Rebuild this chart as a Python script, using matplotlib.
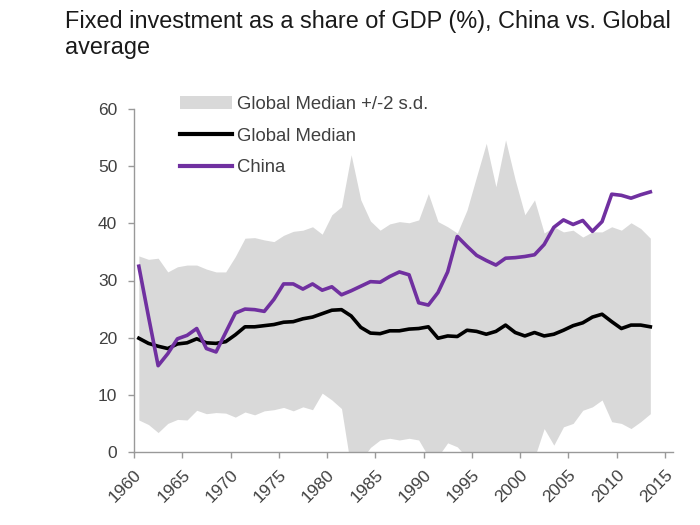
import matplotlib
matplotlib.use("Agg")
import matplotlib.pyplot as plt
from matplotlib.patches import Patch
from matplotlib.lines import Line2D
import numpy as np

years = list(range(1960, 2014))

china = [32.5, 23.7, 15.1, 17.2, 19.8, 20.4, 21.6, 18.1, 17.5, 20.9,
         24.3, 25.0, 24.9, 24.6, 26.7, 29.4, 29.4, 28.5, 29.4, 28.3,
         28.9, 27.5, 28.2, 29.0, 29.8, 29.7, 30.7, 31.5, 31.0, 26.1,
         25.7, 27.9, 31.5, 37.7, 36.0, 34.4, 33.5, 32.7, 33.9, 34.0,
         34.2, 34.5, 36.3, 39.3, 40.6, 39.8, 40.5, 38.6, 40.3, 45.1,
         44.9, 44.4, 45.0, 45.5]

median = [19.9, 19.0, 18.5, 18.1, 18.9, 19.1, 19.8, 19.1, 19.0, 19.3,
          20.5, 21.9, 21.9, 22.1, 22.3, 22.7, 22.8, 23.3, 23.6, 24.2,
          24.8, 24.9, 23.8, 21.8, 20.8, 20.7, 21.2, 21.2, 21.5, 21.6,
          21.9, 19.9, 20.3, 20.2, 21.3, 21.1, 20.6, 21.1, 22.2, 20.9,
          20.3, 20.9, 20.3, 20.6, 21.3, 22.1, 22.6, 23.6, 24.1, 22.8,
          21.6, 22.2, 22.2, 21.9]

band_upper = [34.3, 33.7, 33.9, 31.5, 32.4, 32.7, 32.7, 32.0, 31.5, 31.5,
              34.2, 37.4, 37.5, 37.1, 36.8, 37.9, 38.6, 38.8, 39.4, 38.1,
              41.5, 42.9, 52.0, 44.1, 40.4, 38.8, 39.9, 40.3, 40.1, 40.6,
              45.2, 40.3, 39.4, 38.3, 42.3, 48.2, 54.0, 46.4, 54.6, 47.6,
              41.5, 44.1, 38.3, 39.4, 38.5, 38.8, 37.6, 38.5, 38.5, 39.4,
              38.8, 40.1, 39.1, 37.4]

band_lower = [5.6, 4.8, 3.4, 5.0, 5.7, 5.6, 7.3, 6.7, 6.9, 6.8,
              6.1, 7.0, 6.5, 7.2, 7.4, 7.8, 7.2, 7.9, 7.4, 10.3,
              9.1, 7.6, -3.0, -1.5, 0.8, 2.1, 2.4, 2.1, 2.4, 2.1,
              -0.8, -0.8, 1.6, 0.9, -1.0, -3.0, -4.0, -3.0, -4.0, -2.0,
              -1.5, -1.0, 4.1, 1.2, 4.4, 5.0, 7.3, 7.9, 9.1, 5.3,
              5.0, 4.1, 5.3, 6.7]

xticks = list(range(1960, 2016, 5))
yticks = [0, 10, 20, 30, 40, 50, 60]

title = "Fixed investment as a share of GDP (%), China vs. Global\naverage"
labels = ["Global Median +/-2 s.d.", "Global Median", "China"]

plt.rcParams['font.family'] = ['Liberation Sans', 'DejaVu Sans']

fig = plt.figure(figsize=(7, 5.25), dpi=100)
ax = fig.add_axes([134/700, 1 - 452/525, (673 - 134)/700, (452 - 109)/525])

x = np.array(years) + 0.5  # annual values plotted at mid-year
band_color = '#d9d9d9'
purple = '#7030A0'

ax.fill_between(x, band_lower, band_upper, color=band_color, linewidth=0, zorder=1)
ax.plot(x, median, color='black', lw=2.6, zorder=3, solid_joinstyle='round')
ax.plot(x, china, color=purple, lw=2.6, zorder=4, solid_joinstyle='round')

ax.set_xlim(1960, 2015.85)
ax.set_ylim(0, 60)
ax.set_xticks(xticks)
ax.set_xticklabels([str(t) for t in xticks], rotation=45, ha='right',
                   rotation_mode='anchor')
ax.set_yticks(yticks)

for s in ['top', 'right']:
    ax.spines[s].set_visible(False)
for s in ['left', 'bottom']:
    ax.spines[s].set_color('#999999')
    ax.spines[s].set_linewidth(1.0)
ax.tick_params(axis='both', colors='#999999', length=4, width=1.0,
               labelcolor='#404040', labelsize=12.5)
ax.tick_params(axis='x', pad=7)
ax.tick_params(axis='y', pad=8)

handles = [Patch(facecolor=band_color, edgecolor='none'),
           Line2D([], [], color='black', lw=3),
           Line2D([], [], color=purple, lw=3)]
leg = ax.legend(handles, labels, loc='upper left',
                bbox_to_anchor=((180 - 134)/539, (452 - 96)/343),
                frameon=False, fontsize=13.3, handlelength=2.8,
                handletextpad=0.27, labelspacing=0.79, borderaxespad=0,
                borderpad=0)
for t in leg.get_texts():
    t.set_color('#404040')

fig.text(65/700, 1 - 10/525, title, ha='left', va='top', fontsize=16.9,
         color='#1a1a1a', linespacing=1.17)

fig.savefig('out.png', dpi=100)
